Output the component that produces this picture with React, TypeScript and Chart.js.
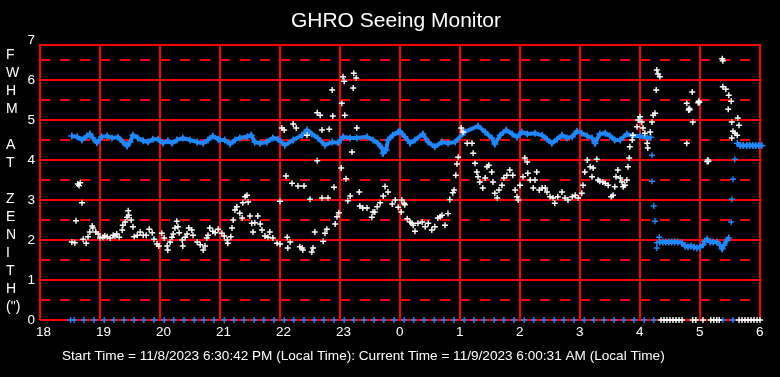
import React, { useEffect, useRef } from 'react';
import { Chart, registerables } from 'chart.js';

Chart.register(...registerables);

const FONT = '"Liberation Sans", Arial, Helvetica, sans-serif';
const RED = '#ff0000';
const BLUE = '#1e88ff';
const WHITE = '#ffffff';

const chartTitle = 'GHRO Seeing Monitor';
const footerText =
  'Start Time = 11/8/2023 6:30:42 PM (Local Time): Current Time = 11/9/2023 6:00:31 AM (Local Time)';
const yAxisLetters = ['F', 'W', 'H', 'M', '', 'A', 'T', '', 'Z', 'E', 'N', 'I', 'T', 'H', '(")'];

// hours since midnight of the start day (24+ = next morning)
const xMin = 18;
const xMax = 30;
const yMin = 0;
const yMax = 7;
const frameTop = 6.875;

// FWHM at zenith (arcsec), white markers: [hour, value]
const fwhmPoints: [number, number][] = [
  [18.53, 1.95], [18.58, 1.93], [18.6, 2.48], [18.63, 3.4], [18.67, 3.43], [18.65, 3.36], [18.7, 2.93],
  [18.72, 2.02], [18.77, 1.92], [18.8, 2.08], [18.83, 2.2], [18.87, 2.35], [18.88, 2.3], [18.93, 2.2],
  [18.97, 2.15], [19.0, 2.05], [19.05, 2.07], [19.08, 2.1], [19.12, 2.08], [19.17, 2.05], [19.22, 2.12],
  [19.25, 2.1], [19.28, 2.15], [19.32, 2.07], [19.37, 2.25], [19.38, 2.37], [19.42, 2.45], [19.45, 2.57],
  [19.47, 2.73], [19.48, 2.62], [19.52, 2.5], [19.55, 2.33], [19.57, 2.08], [19.62, 2.12], [19.67, 2.2],
  [19.72, 2.12], [19.77, 2.12], [19.82, 2.27], [19.87, 2.18], [19.9, 2.02], [19.95, 1.9], [19.98, 1.85],
  [20.03, 2.17], [20.07, 2.05], [20.12, 1.85], [20.13, 1.75], [20.17, 1.95], [20.2, 2.07], [20.22, 2.15],
  [20.25, 2.3], [20.28, 2.47], [20.3, 2.33], [20.32, 2.18], [20.37, 2.0], [20.38, 1.85], [20.42, 2.07],
  [20.45, 2.15], [20.48, 2.3], [20.53, 2.25], [20.55, 2.12], [20.62, 1.95], [20.67, 1.88], [20.72, 1.75],
  [20.75, 1.85], [20.78, 2.05], [20.8, 2.12], [20.83, 2.3], [20.88, 2.22], [20.92, 2.18], [20.97, 2.27],
  [21.03, 2.17], [21.07, 2.1], [21.12, 2.0], [21.13, 1.92], [21.18, 2.08], [21.2, 2.3], [21.22, 2.5],
  [21.25, 2.75], [21.28, 2.83], [21.33, 2.67], [21.37, 2.55], [21.38, 2.93], [21.42, 3.08], [21.45, 3.12],
  [21.47, 2.95], [21.5, 2.6], [21.53, 2.42], [21.55, 2.2], [21.58, 2.43], [21.63, 2.6], [21.67, 2.4],
  [21.7, 2.25], [21.75, 2.1], [21.8, 2.07], [21.83, 2.2], [21.88, 2.05], [21.95, 1.92], [22.0, 1.9],
  [22.0, 2.97], [22.03, 4.8], [22.07, 4.75], [22.1, 3.6], [22.12, 2.07], [22.13, 1.8], [22.17, 1.95],
  [22.2, 3.42], [22.22, 4.9], [22.27, 4.8], [22.3, 3.35], [22.33, 1.83], [22.37, 1.8], [22.38, 1.75],
  [22.4, 3.35], [22.45, 4.62], [22.5, 3.02], [22.53, 1.7], [22.55, 1.8], [22.58, 2.2], [22.62, 3.98],
  [22.62, 5.18], [22.67, 5.12], [22.7, 3.05], [22.7, 4.75], [22.72, 1.97], [22.75, 2.17], [22.78, 2.27],
  [22.8, 3.05], [22.82, 4.77], [22.87, 5.75], [22.88, 5.1], [22.9, 3.32], [22.92, 2.4], [22.95, 2.58],
  [22.98, 2.68], [23.02, 3.8], [23.03, 5.42], [23.05, 6.08], [23.07, 5.97], [23.08, 5.12], [23.1, 3.53],
  [23.13, 2.98], [23.17, 3.1], [23.2, 4.2], [23.22, 5.8], [23.23, 6.17], [23.27, 6.05], [23.28, 4.8],
  [23.32, 3.2], [23.33, 2.85], [23.38, 2.8], [23.45, 2.8], [23.53, 2.57], [23.55, 2.7], [23.58, 2.7],
  [23.62, 2.83], [23.67, 2.93], [23.72, 3.1], [23.75, 3.34], [23.8, 3.2], [23.87, 2.9], [23.92, 3.0],
  [23.97, 2.82], [24.02, 2.7], [24.03, 3.0], [24.07, 2.92], [24.08, 2.88], [24.12, 2.53], [24.17, 2.45],
  [24.2, 2.42], [24.22, 2.37], [24.25, 2.22], [24.3, 2.42], [24.37, 2.45], [24.42, 2.33], [24.47, 2.42],
  [24.53, 2.25], [24.58, 2.33], [24.63, 2.55], [24.67, 2.58], [24.7, 2.62], [24.75, 2.37], [24.8, 2.66],
  [24.83, 3.01], [24.88, 3.18], [24.9, 3.25], [24.93, 3.62], [24.95, 3.9], [24.97, 4.07], [25.02, 4.8],
  [25.05, 4.7], [25.12, 4.42], [25.2, 4.42], [25.22, 4.17], [25.25, 3.92], [25.28, 3.7], [25.3, 3.58],
  [25.33, 3.45], [25.38, 3.3], [25.42, 3.55], [25.45, 3.83], [25.48, 3.87], [25.53, 3.7], [25.55, 3.45],
  [25.58, 3.17], [25.62, 3.05], [25.65, 3.25], [25.7, 3.37], [25.73, 3.55], [25.78, 3.62], [25.83, 3.75],
  [25.88, 3.62], [25.92, 3.25], [25.95, 3.08], [25.97, 3.0], [26.0, 3.37], [26.05, 3.58], [26.08, 4.05],
  [26.12, 3.95], [26.13, 3.67], [26.17, 3.5], [26.22, 3.3], [26.25, 3.5], [26.28, 3.7], [26.32, 3.25],
  [26.37, 3.3], [26.42, 3.3], [26.45, 3.2], [26.5, 3.08], [26.55, 3.05], [26.58, 2.92], [26.63, 3.08],
  [26.7, 3.2], [26.75, 3.05], [26.8, 3.0], [26.87, 3.08], [26.92, 3.12], [26.97, 3.05], [27.03, 3.17],
  [27.05, 3.37], [27.08, 3.7], [27.12, 4.0], [27.17, 3.83], [27.2, 3.58], [27.22, 3.8], [27.28, 4.02],
  [27.3, 3.5], [27.33, 3.47], [27.38, 3.45], [27.42, 3.42], [27.47, 3.37], [27.52, 3.08], [27.55, 3.12],
  [27.58, 3.33], [27.6, 3.58], [27.63, 3.75], [27.67, 3.55], [27.7, 3.45], [27.72, 3.33], [27.75, 3.37],
  [27.78, 3.5], [27.8, 3.83], [27.82, 4.05], [27.83, 4.33], [27.87, 4.5], [27.88, 4.62], [27.95, 4.83],
  [27.97, 5.0], [28.0, 5.08], [28.03, 4.95], [28.05, 4.8], [28.08, 4.67], [28.12, 4.42], [28.13, 4.3],
  [28.17, 4.7], [28.2, 4.95], [28.22, 5.12], [28.25, 5.17], [28.27, 5.75], [28.28, 6.25], [28.3, 6.15],
  [28.33, 6.08], [28.78, 4.42], [28.78, 5.42], [28.81, 5.25], [28.82, 5.29], [28.83, 5.26], [28.87, 5.7],
  [28.88, 4.95], [28.97, 5.43], [28.98, 5.47], [28.99, 5.44], [29.12, 3.96], [29.13, 4.0], [29.14, 3.97],
  [29.37, 6.53], [29.38, 6.48], [29.38, 5.83], [29.43, 5.77], [29.47, 5.27], [29.48, 5.62], [29.52, 5.47],
  [29.53, 4.95], [29.53, 4.55], [29.55, 4.72], [29.58, 4.67], [29.62, 4.62], [29.63, 5.05], [29.65, 4.87],
];

// white markers sitting on zero (hours)
const fwhmZeroTimes = [
  28.35, 28.4, 28.45, 28.5, 28.55, 28.6, 28.65, 28.7, 28.88, 28.93, 29.05, 29.18, 29.23, 29.28, 29.32,
  29.65, 29.7, 29.75, 29.8, 29.85, 29.9, 29.95, 30.0,
];

// blue series: [hour, value]
const blueBandEvening: [number, number][] = [
  [18.53, 4.6], [18.62, 4.58], [18.7, 4.5], [18.78, 4.6], [18.83, 4.65], [18.88, 4.55], [18.95, 4.43],
  [19.03, 4.58], [19.12, 4.6], [19.2, 4.55], [19.3, 4.57], [19.38, 4.45], [19.45, 4.35], [19.5, 4.45],
  [19.55, 4.62], [19.63, 4.55], [19.72, 4.48], [19.8, 4.45], [19.88, 4.52], [19.97, 4.52], [20.05, 4.42],
  [20.13, 4.48], [20.2, 4.42], [20.28, 4.5], [20.38, 4.55], [20.5, 4.5], [20.62, 4.45], [20.72, 4.42],
  [20.8, 4.5], [20.88, 4.6], [20.97, 4.52], [21.0, 4.5], [21.08, 4.5], [21.17, 4.4], [21.25, 4.5],
  [21.33, 4.55], [21.45, 4.58], [21.52, 4.62], [21.58, 4.45], [21.67, 4.42], [21.78, 4.45], [21.88, 4.55],
  [21.97, 4.52], [22.08, 4.37], [22.22, 4.5], [22.37, 4.62], [22.45, 4.75], [22.53, 4.65], [22.63, 4.55],
  [22.75, 4.37], [22.87, 4.45], [22.97, 4.43], [23.05, 4.58], [23.17, 4.55], [23.28, 4.55], [23.45, 4.58],
  [23.55, 4.5], [23.63, 4.42], [23.7, 4.3], [23.72, 4.17], [23.77, 4.25], [23.8, 4.5], [23.88, 4.62],
  [23.97, 4.7], [24.0, 4.72], [24.08, 4.58], [24.17, 4.42], [24.25, 4.5], [24.38, 4.65], [24.47, 4.45],
  [24.58, 4.33], [24.7, 4.45], [24.8, 4.42], [24.92, 4.45], [25.08, 4.7], [25.3, 4.85], [25.42, 4.7],
  [25.53, 4.55], [25.58, 4.4], [25.67, 4.62], [25.77, 4.75], [25.87, 4.65], [25.95, 4.57], [26.03, 4.7],
  [26.12, 4.65], [26.25, 4.67], [26.37, 4.62], [26.45, 4.52], [26.53, 4.42], [26.62, 4.52], [26.7, 4.62],
  [26.78, 4.55], [26.87, 4.58], [26.95, 4.72], [27.03, 4.67], [27.12, 4.6], [27.2, 4.55], [27.25, 4.42],
  [27.33, 4.65], [27.42, 4.67], [27.5, 4.6], [27.58, 4.5], [27.67, 4.5], [27.78, 4.65], [27.88, 4.6],
  [28.0, 4.6], [28.12, 4.55], [28.18, 4.57],
];

const blueBandMorning: [number, number][] = [
  [28.33, 1.95], [28.38, 1.95], [28.43, 1.95], [28.48, 1.95], [28.53, 1.95], [28.58, 1.95], [28.63, 1.95],
  [28.7, 1.93], [28.75, 1.85], [28.8, 1.83], [28.85, 1.85], [28.9, 1.82], [28.95, 1.8], [29.0, 1.82],
  [29.05, 1.88], [29.08, 1.97], [29.12, 2.02], [29.17, 1.95], [29.22, 1.95], [29.28, 1.95], [29.33, 1.88],
  [29.37, 1.78], [29.4, 1.87], [29.45, 2.0], [29.48, 2.05],
];

const blueBandDawn: [number, number][] = [
  [29.62, 4.42], [29.67, 4.36], [29.72, 4.36], [29.78, 4.36], [29.83, 4.36], [29.88, 4.36], [29.93, 4.36],
  [29.98, 4.36], [30.03, 4.36],
];

const blueIsolated: [number, number][] = [
  [28.2, 4.12], [28.2, 3.47], [28.23, 2.85], [28.25, 2.47], [28.32, 2.07], [28.28, 1.93], [28.28, 1.8],
  [29.52, 2.45], [29.53, 3.02], [29.55, 3.52], [29.58, 4.02],
];

// blue markers sitting on zero (hours)
const blueZeroTimes = [
  18.51, 18.57, 18.73, 18.9, 19.07, 19.23, 19.4, 19.57, 19.73, 19.9, 20.07, 20.23, 20.4, 20.57, 20.73,
  20.9, 21.07, 21.23, 21.4, 21.57, 21.73, 21.9, 22.07, 22.23, 22.4, 22.57, 22.73, 22.9, 23.07, 23.23,
  23.4, 23.57, 23.73, 23.9, 24.07, 24.23, 24.4, 24.57, 24.73, 24.9, 25.07, 25.23, 25.4, 25.57, 25.73,
  25.9, 26.07, 26.23, 26.4, 26.57, 26.73, 26.9, 27.07, 27.23, 27.4, 27.57, 27.73, 27.9, 28.07, 28.23,
  29.38, 29.55,
];

const toXY = (pts: [number, number][]) => pts.map(([x, y]) => ({ x, y }));
const zeroXY = (ts: number[]) => ts.map((x) => ({ x, y: 0 }));

const framePlugin = {
  id: 'seeingFrame',
  beforeDatasetsDraw(chart: any) {
    const { ctx } = chart;
    const xs = chart.scales.x;
    const ys = chart.scales.y;
    const left = xs.getPixelForValue(xMin);
    const right = xs.getPixelForValue(xMax);
    const top = Math.round(ys.getPixelForValue(frameTop));
    const bottom = ys.getPixelForValue(yMin);
    ctx.save();
    ctx.strokeStyle = RED;
    ctx.lineWidth = 2;
    ctx.setLineDash([10, 10]);
    ys.ticks.forEach((t: any) => {
      const v = t.value + 0.5;
      if (v < frameTop) {
        const py = Math.round(ys.getPixelForValue(v));
        ctx.beginPath();
        ctx.moveTo(left, py);
        ctx.lineTo(right, py);
        ctx.stroke();
      }
    });
    ctx.setLineDash([]);
    ys.ticks.forEach((t: any) => {
      if (t.value < frameTop) {
        const py = Math.round(ys.getPixelForValue(t.value));
        ctx.beginPath();
        ctx.moveTo(left, py);
        ctx.lineTo(right, py);
        ctx.stroke();
      }
    });
    ctx.beginPath();
    ctx.moveTo(left - 1, top);
    ctx.lineTo(right + 1, top);
    ctx.stroke();
    xs.ticks.forEach((t: any) => {
      const px = Math.round(xs.getPixelForValue(t.value));
      ctx.beginPath();
      ctx.moveTo(px, top);
      ctx.lineTo(px, bottom);
      ctx.stroke();
    });
    ctx.restore();
  },
  afterDraw(chart: any) {
    const { ctx } = chart;
    ctx.save();
    ctx.fillStyle = WHITE;
    ctx.textAlign = 'center';
    ctx.textBaseline = 'alphabetic';
    ctx.font = `21px ${FONT}`;
    ctx.fillText(chartTitle, 396, 27);
    ctx.textAlign = 'left';
    ctx.font = `14px ${FONT}`;
    yAxisLetters.forEach((ch, i) => {
      if (ch) ctx.fillText(ch, 6, 58.5 + i * 18);
    });
    ctx.font = `13.6px ${FONT}`;
    ctx.fillText(footerText, 62, 360);
    ctx.restore();
  },
};

export default function App() {
  const canvasRef = useRef<HTMLCanvasElement | null>(null);

  useEffect(() => {
    if (!canvasRef.current) return;
    const pointCommon = {
      pointStyle: 'cross',
      pointRadius: 3,
      pointHoverRadius: 3,
      pointBorderWidth: 1.4,
      clip: false,
    };
    const bandCommon = {
      ...pointCommon,
      pointRadius: 3.5,
      pointBorderWidth: 1.6,
      showLine: true,
      borderWidth: 4,
      borderColor: BLUE,
      backgroundColor: BLUE,
    };
    const chart = new Chart(canvasRef.current, {
      type: 'scatter',
      data: {
        datasets: [
          { ...pointCommon, label: 'FWHM', data: toXY(fwhmPoints), borderColor: WHITE, backgroundColor: WHITE },
          { ...pointCommon, label: 'FWHM zero', data: zeroXY(fwhmZeroTimes), borderColor: WHITE, backgroundColor: WHITE },
          { ...bandCommon, label: 'band1', data: toXY(blueBandEvening) },
          { ...bandCommon, label: 'band2', data: toXY(blueBandMorning) },
          { ...bandCommon, label: 'band3', data: toXY(blueBandDawn) },
          { ...pointCommon, label: 'blue iso', data: toXY(blueIsolated), borderColor: BLUE, backgroundColor: BLUE },
          { ...pointCommon, label: 'blue zero', data: zeroXY(blueZeroTimes), borderColor: BLUE, backgroundColor: BLUE },
        ],
      },
      options: {
        animation: false,
        responsive: false,
        devicePixelRatio: 1,
        layout: { padding: { top: 40, right: 20, left: 0, bottom: 0 } },
        plugins: {
          legend: { display: false },
          title: { display: false },
          tooltip: { enabled: false },
        },
        scales: {
          x: {
            type: 'linear',
            min: xMin,
            max: xMax,
            grid: { display: false, drawTicks: false },
            border: { display: false },
            afterFit: (s: any) => {
              s.height = 57;
            },
            ticks: {
              stepSize: 1,
              color: WHITE,
              font: { family: FONT, size: 13.5 },
              padding: 4,
              align: 'start',
              labelOffset: -4,
              maxRotation: 0,
              autoSkip: false,
              callback: (v: any) => String(((Number(v) % 24) + 24) % 24),
            },
          },
          y: {
            type: 'linear',
            min: yMin,
            max: yMax,
            grid: { display: false, drawTicks: false },
            border: { display: false },
            afterFit: (s: any) => {
              s.width = 40;
            },
            ticks: {
              stepSize: 1,
              color: WHITE,
              font: { family: FONT, size: 13.5 },
              padding: 5,
              callback: (v: any) => String(v),
            },
          },
        },
      },
      plugins: [framePlugin],
    } as any);
    return () => chart.destroy();
  }, []);

  return (
    <div style={{ position: 'fixed', left: 0, top: 0, width: 780, height: 377, background: '#000' }}>
      <canvas ref={canvasRef} width={780} height={377} style={{ display: 'block', width: 780, height: 377 }} />
    </div>
  );
}
